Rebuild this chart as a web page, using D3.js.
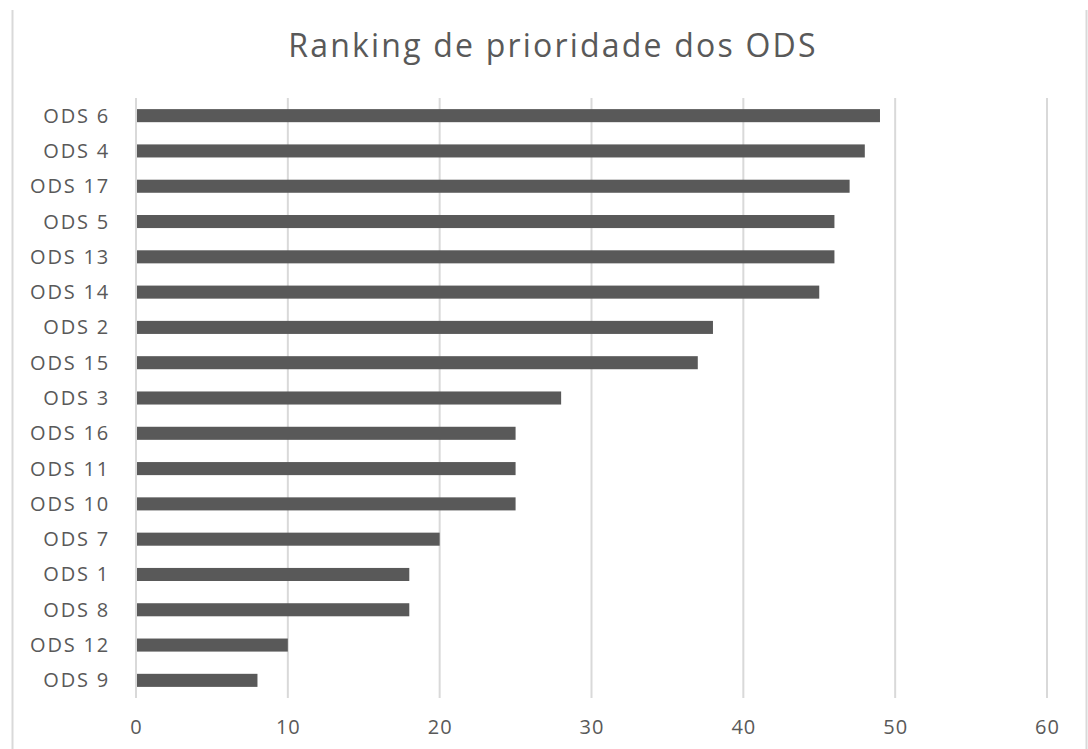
<!DOCTYPE html>
<html>
<head>
<meta charset="utf-8">
<script src="https://cdn.jsdelivr.net/npm/d3@7"></script>
<style>
  body { margin: 0; background: #fff; }
  text { font-family: "Open Sans", sans-serif; fill: #595959; }
</style>
</head>
<body>
<div id="chart"></div>
<script>
// categories from top to bottom
var categories = ['ODS 6', 'ODS 4', 'ODS 17', 'ODS 5', 'ODS 13', 'ODS 14', 'ODS 2', 'ODS 15',
    'ODS 3', 'ODS 16', 'ODS 11', 'ODS 10', 'ODS 7', 'ODS 1', 'ODS 8', 'ODS 12', 'ODS 9'];
var values = [49, 48, 47, 46, 46, 45, 38, 37, 28, 25, 25, 25, 20, 18, 18, 10, 8];
var xTicks = [0, 10, 20, 30, 40, 50, 60];
var title = 'Ranking de prioridade dos ODS';

var width = 1088,
    height = 749;
var margin = {top: 98, right: 41, bottom: 51, left: 136};
var innerW = width - margin.left - margin.right,
    innerH = height - margin.top - margin.bottom;

var dataset = categories.map(function(c, i) { return {cat: c, value: values[i]}; });

var svg = d3.select('#chart').append('svg')
    .attr('width', width)
    .attr('height', height);

// outer frame lines
svg.append('line')
    .attr('x1', 12.5).attr('x2', 12.5)
    .attr('y1', 10).attr('y2', height)
    .attr('stroke', '#d9d9d9').attr('stroke-width', 2);
svg.append('line')
    .attr('x1', 1086.5).attr('x2', 1086.5)
    .attr('y1', 10).attr('y2', height)
    .attr('stroke', '#d9d9d9').attr('stroke-width', 2);

var x = d3.scaleLinear().domain([0, 60]).range([0, innerW]);
var y = d3.scaleBand().domain(categories).range([0, innerH]).paddingInner(0.63).paddingOuter(0.315);

var g = svg.append('g')
    .attr('transform', 'translate(' + margin.left + ',' + margin.top + ')');

// gridlines
g.append('g')
    .selectAll('line')
    .data(xTicks)
    .enter().append('line')
    .attr('x1', function(d) { return x(d); })
    .attr('x2', function(d) { return x(d); })
    .attr('y1', 0)
    .attr('y2', innerH)
    .attr('stroke', '#d9d9d9')
    .attr('stroke-width', 2);

// bars
g.append('g')
    .selectAll('rect')
    .data(dataset)
    .enter().append('rect')
    .attr('x', x(0) + 1)
    .attr('y', function(d) { return y(d.cat); })
    .attr('width', function(d) { return x(d.value) - x(0) - 1; })
    .attr('height', y.bandwidth())
    .attr('fill', '#595959');

// y axis labels
var yAxis = d3.axisLeft(y).tickSize(0).tickPadding(0);
var yg = g.append('g').call(yAxis);
yg.select('.domain').remove();
yg.selectAll('text')
    .attr('x', -26)
    .attr('dy', '0.35em')
    .style('font-size', '20px')
    .style('letter-spacing', '1.8px')
    .style('fill', '#595959');

// x axis labels
var xAxis = d3.axisBottom(x).tickValues(xTicks).tickSize(0).tickPadding(0);
var xg = g.append('g')
    .attr('transform', 'translate(0,' + innerH + ')')
    .call(xAxis);
xg.select('.domain').remove();
xg.selectAll('text')
    .attr('y', 29)
    .attr('dy', '0.35em')
    .style('font-size', '20px')
    .style('letter-spacing', '1px')
    .style('fill', '#595959');

// title
svg.append('text')
    .attr('x', 553)
    .attr('y', 57)
    .attr('text-anchor', 'middle')
    .style('font-size', '32px')
    .style('letter-spacing', '2.2px')
    .text(title);
</script>
</body>
</html>
